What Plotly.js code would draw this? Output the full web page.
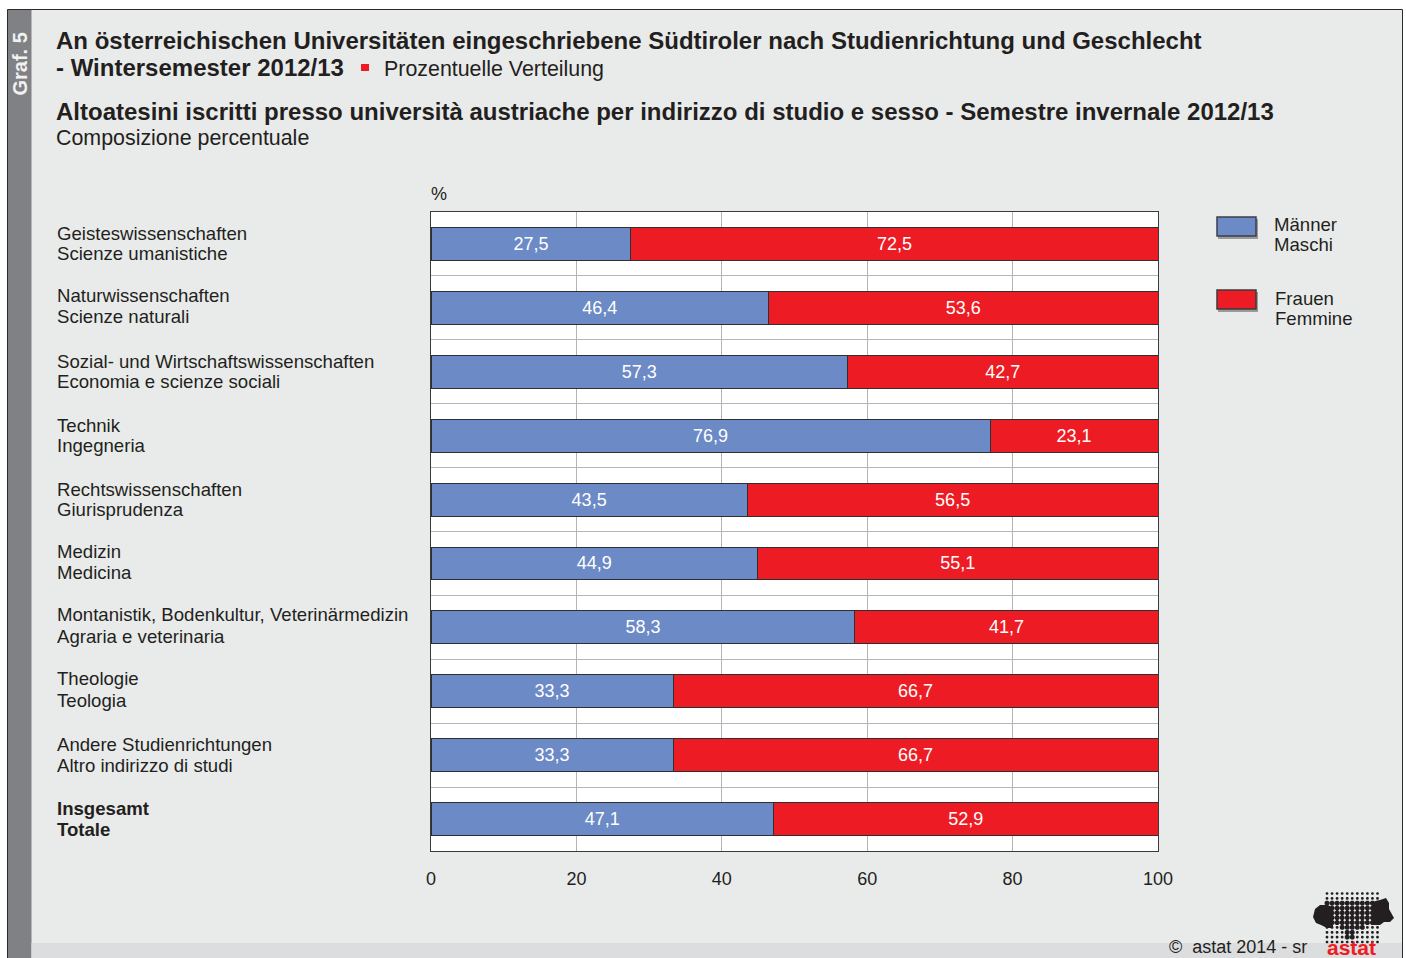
<!DOCTYPE html>
<html><head><meta charset="utf-8">
<script src="https://cdn.plot.ly/plotly-3.0.1.min.js"></script>
<style>html,body{margin:0;padding:0;background:#fff}#c{width:1406px;height:958px}</style>
</head><body><div id="c"></div>
<script>
const categories = ["Geisteswissenschaften","Naturwissenschaften","Sozial- und Wirtschaftswissenschaften","Technik","Rechtswissenschaften","Medizin","Montanistik, Bodenkultur, Veterinärmedizin","Theologie","Andere Studienrichtungen","Insgesamt"];
const categoriesIt = ["Scienze umanistiche","Scienze naturali","Economia e scienze sociali","Ingegneria","Giurisprudenza","Medicina","Agraria e veterinaria","Teologia","Altro indirizzo di studi","Totale"];
const maenner = [27.5,46.4,57.3,76.9,43.5,44.9,58.3,33.3,33.3,47.1];
const frauen  = [72.5,53.6,42.7,23.1,56.5,55.1,41.7,66.7,66.7,52.9];
const xTicks = [0,20,40,60,80,100];

const W=1406,H=958,L=431,R=1158,T=212,B=851;
const px=x=>(x-L)/(R-L), py=y=>(B-y)/(B-T);
const FONT='"Liberation Sans", Arial, sans-serif';
const INK='#231f20';
const rect=(x0,y0,x1,y1,fill,line)=>({type:'rect',xref:'paper',yref:'paper',layer:'below',x0:px(x0),x1:px(x1),y0:py(y1),y1:py(y0),fillcolor:fill,line:line||{width:0}});
// x is the visible left edge of the text: annotations carry 2px of padding
const note=(x,y,text,size,extra)=>Object.assign({xref:'paper',yref:'paper',x:px(x-2),y:py(y),text,showarrow:false,xanchor:'left',yanchor:'middle',align:'left',font:{family:FONT,size,color:INK}},extra||{});

const shapes=[
 rect(0,0,W,9.5,'#fff'), rect(0,0,7.5,H,'#fff'), rect(1402.5,0,W,H,'#fff'),
 rect(7.5,9.5,1402.5,H+4,'rgba(0,0,0,0)',{color:'#2a2a2a',width:1}),
 rect(8,10,31.5,H,'#808184'),
 rect(31.5,943,1402,H,'#dcddde'),
 rect(361,64,369,71,'#ed1c24'),
 rect(1218,219,1258,239,'#9a9a9a'), rect(1217,217,1256,236,'#6c8ac5',{color:'#3a3f4a',width:1.5}),
 rect(1218,292,1258,312,'#9a9a9a'), rect(1217,290,1256,309,'#ed1c24',{color:'#3a3a3a',width:1.5})
];

// logo: round dot raster with solid lobes left and right
const dot=(cx,cy,r)=>{const k=r*0.45;return [[-r,-k],[-k,-r],[k,-r],[r,-k],[r,k],[k,r],[-k,r],[-r,k]].map((p,i)=>(i?'L':'M')+px(cx+p[0])+','+py(cy+p[1])).join('')+'Z';};
let dots='';
for(let j=0;j<11;j++)for(let i=0;i<11;i++){
  const big=(j>=2&&j<=6)||(j===7&&i>=3&&i<=7)||(j>=8&&j<=9&&i>=4&&i<=5);
  dots+=dot(1327+i*5.05,893.5+j*4.85,big?2.4:1.35);
}
shapes.push({type:'path',xref:'paper',yref:'paper',layer:'above',path:dots,fillcolor:'#231f20',line:{width:0}});
const lobeL=[[1313,917],[1315,909],[1320,905],[1328,905],[1333,908],[1333,928],[1327,928],[1321,925],[1316,923]];
const lobeR=[[1372,902],[1380,900],[1386,898],[1389,903],[1389,909],[1394,918],[1390,922],[1384,922],[1380,925],[1372,925]];
[lobeL,lobeR].forEach(l=>shapes.push({type:'path',xref:'paper',yref:'paper',layer:'above',fillcolor:'#231f20',line:{width:0},
 path:l.map((p,i)=>(i?'L':'M')+px(p[0])+','+py(p[1])).join('')+'Z'}));

const annotations=[
 note(19.5,64,'<b>Graf. 5</b>',20,{x:px(19.5),xanchor:'center',textangle:-90,font:{family:FONT,size:20,color:'#f1f1f1'}}),
 note(56,67.5,'<b>- Wintersemester 2012/13</b>',24),
 note(384,69,'Prozentuelle Verteilung',21.4),
 note(56,112,'<b>Altoatesini iscritti presso università austriache per indirizzo di studio e sesso - Semestre invernale 2012/13</b>',24),
 note(56,138,'Composizione percentuale',21.4),
 note(431,194,'%',18),
 note(1274,224,'Männer',18.6), note(1274,245,'Maschi',18.6),
 note(1275,298,'Frauen',18.6), note(1275,318,'Femmine',18.6),
 note(1169,0,'©  astat 2014 - sr',18,{y:py(959),yanchor:'bottom'}),
 note(1327,0,'<b>astat</b>',21,{y:py(961),yanchor:'bottom',font:{family:FONT,size:21,color:'#ed1c24'}})
];
const labelNudge=[0,2,0,0,0,1,2,2,0,0];
categories.forEach((c,i)=>{
  const wrap=s=>i===categories.length-1?'<b>'+s+'</b>':s;
  const base={xref:'paper',yref:'y',x:px(55),y:c,showarrow:false,xanchor:'left',yanchor:'middle',align:'left',font:{family:FONT,size:18.6,color:INK}};
  annotations.push(Object.assign({},base,{text:wrap(c),yshift:10.5+labelNudge[i]}));
  annotations.push(Object.assign({},base,{text:wrap(categoriesIt[i]),yshift:-10+labelNudge[i]*0.5}));
});

const bar=(name,x,color)=>({type:'bar',orientation:'h',name,y:categories,x,width:0.515,
  marker:{color,line:{color:'#2f2f2f',width:1}},texttemplate:'%{x:.1f}',textposition:'inside',insidetextanchor:'middle',
  textangle:0,constraintext:'none',textfont:{family:FONT,size:18,color:'#fff'},hoverinfo:'x+y'});

Plotly.newPlot('c',[bar('Männer / Maschi',maenner,'#6c8ac5'),bar('Frauen / Femmine',frauen,'#ed1c24')],{
  width:W,height:H,barmode:'stack',showlegend:false,separators:',.',
  paper_bgcolor:'#e9ebea',plot_bgcolor:'#fff',
  margin:{l:L,r:W-R,t:T,b:H-B,pad:0},
  font:{family:FONT,color:INK},
  title:{text:'<b>An österreichischen Universitäten eingeschriebene Südtiroler nach Studienrichtung und Geschlecht</b>',x:56/W,xref:'container',xanchor:'left',y:1-41/H,yref:'container',yanchor:'middle',font:{family:FONT,size:24,color:INK}},
  xaxis:{range:[0,100],tickvals:xTicks,ticktext:xTicks.map(String),showgrid:true,gridcolor:'#b4b5b6',gridwidth:1,zeroline:false,ticks:'',ticklabelstandoff:11,
    showline:true,mirror:true,linecolor:'#3a3a3a',linewidth:1,tickfont:{family:FONT,size:18,color:INK}},
  yaxis:{type:'category',categoryorder:'array',categoryarray:categories,range:[9.5,-0.5],tickson:'boundaries',showgrid:true,gridcolor:'#b4b5b6',gridwidth:1,showticklabels:false,ticks:'',zeroline:false,
    showline:true,mirror:true,linecolor:'#3a3a3a',linewidth:1},
  shapes,annotations
},{displayModeBar:false,staticPlot:true});
</script></body></html>
